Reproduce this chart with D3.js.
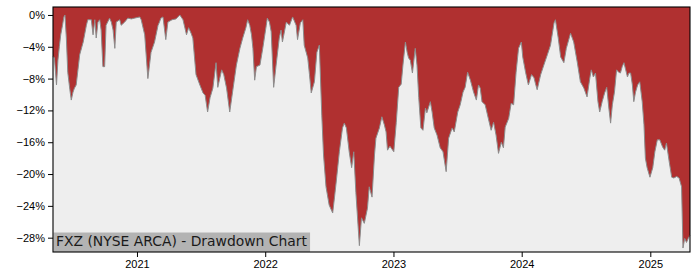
<!DOCTYPE html>
<html>
<head>
<meta charset="utf-8">
<script src="https://cdn.jsdelivr.net/npm/d3@7"></script>
<style>
body { margin: 0; background: #fff; }
svg { display: block; font-family: "DejaVu Sans", sans-serif; }
.tick text { font-size: 11px; fill: #000; }
</style>
</head>
<body>
<script>
var title = "FXZ (NYSE ARCA) - Drawdown Chart";

// drawdown in percent
var dates = [
	"2020-05-07","2020-05-11","2020-05-17","2020-05-21","2020-05-25","2020-05-29","2020-06-03","2020-06-07","2020-06-10","2020-06-14",
	"2020-06-18","2020-06-24","2020-06-28","2020-07-03","2020-07-07","2020-07-12","2020-07-17","2020-07-22","2020-08-01","2020-08-10",
	"2020-08-14","2020-08-24","2020-08-29","2020-09-03","2020-09-07","2020-09-12","2020-09-17","2020-09-21","2020-09-26","2020-10-01",
	"2020-10-05","2020-10-15","2020-10-20","2020-10-25","2020-10-30","2020-11-03","2020-11-13","2020-11-17","2020-11-27","2020-12-06",
	"2020-12-16","2020-12-25",
	"2021-01-09","2021-01-13","2021-01-23","2021-02-01","2021-02-10","2021-02-20","2021-03-02","2021-03-06","2021-03-10","2021-03-16",
	"2021-03-24","2021-03-30","2021-04-11","2021-04-22","2021-05-03","2021-05-12","2021-05-22","2021-05-28","2021-06-04","2021-06-09",
	"2021-06-18","2021-06-29","2021-07-08","2021-07-14","2021-07-21","2021-07-28","2021-08-05","2021-08-14","2021-08-19","2021-08-30",
	"2021-09-05","2021-09-13","2021-09-22","2021-09-30","2021-10-11","2021-10-21","2021-10-29","2021-11-07","2021-11-12","2021-11-18",
	"2021-11-23","2021-11-27","2021-12-02","2021-12-07","2021-12-17","2021-12-25",
	"2022-01-04","2022-01-07","2022-01-13","2022-01-18","2022-01-25","2022-02-01","2022-02-10","2022-02-15","2022-02-19","2022-03-02",
	"2022-03-11","2022-03-20","2022-03-30","2022-04-03","2022-04-11","2022-04-18","2022-04-22","2022-05-02","2022-05-07","2022-05-12",
	"2022-05-21","2022-05-28","2022-06-04","2022-06-11","2022-06-16","2022-06-23","2022-07-02","2022-07-12","2022-07-17","2022-07-22",
	"2022-07-31","2022-08-09","2022-08-14","2022-08-20","2022-08-28","2022-09-04","2022-09-10","2022-09-16","2022-09-26","2022-10-02",
	"2022-10-10","2022-10-19","2022-10-24","2022-11-01","2022-11-08","2022-11-12","2022-11-22","2022-11-29","2022-12-06","2022-12-11",
	"2022-12-15","2022-12-22",
	"2023-01-02","2023-01-09","2023-01-16","2023-01-23","2023-01-28","2023-02-04","2023-02-09","2023-02-13","2023-02-18","2023-02-24",
	"2023-03-04","2023-03-09","2023-03-14","2023-03-20","2023-03-26","2023-04-02","2023-04-06","2023-04-16","2023-04-21","2023-04-27",
	"2023-05-05","2023-05-14","2023-05-22","2023-05-31","2023-06-07","2023-06-17","2023-06-23","2023-07-03","2023-07-10","2023-07-18",
	"2023-07-24","2023-07-31","2023-08-08","2023-08-17","2023-08-25","2023-08-31","2023-09-05","2023-09-10","2023-09-19","2023-09-29",
	"2023-10-06","2023-10-13","2023-10-20","2023-10-27","2023-11-04","2023-11-10","2023-11-15","2023-11-25","2023-12-02","2023-12-09",
	"2023-12-16","2023-12-23","2023-12-31",
	"2024-01-04","2024-01-12","2024-01-20","2024-01-29","2024-02-05","2024-02-09","2024-02-14","2024-02-24","2024-03-04","2024-03-14",
	"2024-03-23","2024-04-02","2024-04-06","2024-04-14","2024-04-21","2024-04-30","2024-05-07","2024-05-19","2024-05-28","2024-06-07",
	"2024-06-16","2024-06-26","2024-07-05","2024-07-13","2024-07-17","2024-07-23","2024-07-29","2024-08-05","2024-08-10","2024-08-17",
	"2024-08-24","2024-08-30","2024-09-05","2024-09-10","2024-09-15","2024-09-21","2024-09-27","2024-10-03","2024-10-08","2024-10-13",
	"2024-10-18","2024-10-23","2024-10-28","2024-11-01","2024-11-06","2024-11-11","2024-11-15","2024-11-20","2024-11-26","2024-12-02",
	"2024-12-09","2024-12-14","2024-12-18","2024-12-23","2024-12-31",
	"2025-01-08","2025-01-14","2025-01-21","2025-01-28","2025-02-05","2025-02-11","2025-02-16","2025-02-24","2025-03-03","2025-03-09",
	"2025-03-17","2025-03-24","2025-03-31","2025-04-04","2025-04-09","2025-04-14","2025-04-19","2025-04-24"
];

var drawdown = [
	-5.2,-5.4,-8.8,-5.7,-4.0,-2.5,-1.3,-0.25,0,-2.9,
	-7.2,-9.4,-10.7,-9.7,-9.2,-8.8,-6.9,-5.0,-3.4,-1.3,
	-0.6,-0.6,-2.5,-0.6,-2.9,-0.9,-0.6,-1.9,-6.5,-6.5,
	-1.3,-0.4,-0.9,-1.9,-4.2,-0.9,-0.6,-1.3,-0.9,-0.4,
	-0.5,-0.4,
	-0.25,-0.6,-2.5,-8.0,-4.7,-3.4,-1.3,-0.9,-0.4,-0.25,
	-3.1,-0.9,-0.6,-0.5,0,-0.6,-2.5,-1.6,-2.3,-2.9,
	-7.5,-8.8,-9.8,-10.1,-12.2,-10.4,-9.2,-6.0,-9.1,-6.9,
	-7.5,-9.2,-12.2,-9.7,-6.3,-4.2,-2.9,-1.6,-0.6,-1.3,
	-2.5,-4.2,-8.2,-6.5,-6.3,-4.2,
	-1.3,-0.4,-0.9,-2.1,-9.1,-6.3,-2.9,-1.9,-3.4,-0.9,
	-1.3,-0.25,-1.3,-3.1,-1.0,-0.6,-3.8,-5.4,-7.5,-9.8,
	-8.4,-4.7,-3.8,-12.6,-17.6,-21.6,-23.9,-24.9,-23.0,-21.0,
	-17.2,-14.2,-13.6,-14.2,-17.2,-19.2,-17.2,-22.3,-29.0,-25.5,
	-26.2,-24.3,-21.6,-22.9,-17.6,-15.5,-14.2,-12.8,-13.8,-14.7,
	-17.0,-16.5,
	-17.2,-13.5,-9.1,-8.7,-6.3,-3.4,-4.7,-5.4,-5.7,-7.3,
	-4.2,-6.3,-10.4,-14.2,-14.5,-11.7,-12.3,-10.9,-12.2,-14.2,
	-15.1,-16.7,-17.2,-19.7,-15.5,-14.2,-14.7,-12.2,-11.3,-9.7,
	-9.1,-7.2,-8.2,-9.7,-10.7,-8.8,-9.2,-10.9,-11.3,-13.2,
	-14.5,-13.5,-15.1,-17.4,-16.0,-16.7,-14.1,-13.0,-11.1,-11.3,
	-7.2,-4.2,-3.4,
	-5.3,-7.2,-8.8,-7.5,-7.9,-8.6,-9.4,-7.5,-6.3,-5.0,
	-3.8,-1.0,-0.6,-2.9,-5.3,-6.0,-4.2,-2.3,-3.4,-5.9,
	-8.4,-9.2,-10.3,-7.9,-6.9,-7.8,-7.3,-10.9,-12.2,-10.9,
	-9.8,-9.1,-11.7,-13.6,-11.3,-9.7,-6.9,-7.2,-7.3,-6.5,
	-6.0,-6.9,-7.8,-7.3,-7.3,-8.8,-10.9,-9.7,-8.8,-8.4,
	-10.9,-13.8,-18.0,-19.2,-20.4,
	-19.2,-17.2,-15.7,-15.7,-16.6,-17.0,-16.1,-18.5,-20.4,-20.5,
	-20.3,-20.5,-21.6,-29.3,-28.1,-28.6,-28.1,-27.7
];

var yTicks = [0, -4, -8, -12, -16, -20, -24, -28];

var margin = { top: 7, right: 10, bottom: 28, left: 53 };
var width = 700 - margin.left - margin.right, height = 280 - margin.top - margin.bottom;

var parse = d3.timeParse("%Y-%m-%d");
var data = dates.map((d, i) => ({ date: parse(d), dd: drawdown[i] }));

var svg = d3.select("body").append("svg")
	.attr("width", width + margin.left + margin.right)
	.attr("height", height + margin.top + margin.bottom)
	.append("g")
	.attr("transform", "translate(" + margin.left + "," + margin.top + ")");

var x = d3.scaleTime()
	.domain(d3.extent(data, d => d.date))
	.range([0, width]);

var y = d3.scaleLinear()
	.domain([-29.8, 1])
	.range([height, 0]);

svg.append("rect")
	.attr("width", width)
	.attr("height", height)
	.attr("fill", "#eeeeee");

var area = d3.area()
	.x(d => x(d.date))
	.y0(0)
	.y1(d => y(d.dd));

var line = d3.line()
	.x(d => x(d.date))
	.y(d => y(d.dd));

svg.append("path")
	.datum(data)
	.attr("d", area)
	.attr("fill", "#b03030");

svg.append("path")
	.datum(data)
	.attr("d", line)
	.attr("fill", "none")
	.attr("stroke", "#8c8c8c")
	.attr("stroke-width", 1);

// label box at bottom left
var label = svg.append("g");
var labelText = label.append("text")
	.attr("x", 3)
	.attr("y", height - 6)
	.style("font-size", "13.9px")
	.style("fill", "#1a1a1a")
	.text(title);
var bb = labelText.node().getBBox();
label.insert("rect", "text")
	.attr("x", 0.5)
	.attr("y", height - 19.5)
	.attr("width", bb.width + 5)
	.attr("height", 19.5)
	.attr("fill", "#b3b3b3");

var xAxis = d3.axisBottom(x)
	.ticks(d3.timeYear.every(1))
	.tickFormat(d3.timeFormat("%Y"))
	.tickSize(5)
	.tickPadding(3);

var yAxis = d3.axisLeft(y)
	.tickValues(yTicks)
	.tickFormat(d => d3.format(".0f")(d) + "%")
	.tickSize(5)
	.tickPadding(3);

svg.append("g")
	.attr("transform", "translate(0," + height + ")")
	.call(xAxis)
	.call(g => g.select(".domain").remove());

svg.append("g")
	.call(yAxis)
	.call(g => g.select(".domain").remove());

svg.append("rect")
	.attr("width", width)
	.attr("height", height)
	.attr("fill", "none")
	.attr("stroke", "#000")
	.attr("stroke-width", 1.1);
</script>
</body>
</html>
